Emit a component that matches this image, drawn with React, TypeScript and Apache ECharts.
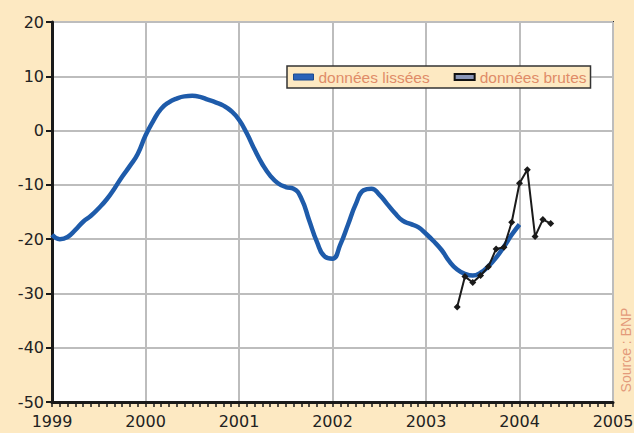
import React, { useEffect, useRef } from "react";
import * as echarts from "echarts";

const startYear = 1999;
const smoothedName = "données lissées";
const rawName = "données brutes";
// monthly values, Jan 1999 .. Jan 2004
const smoothedValues = [
  -19.2, -20.0, -19.6, -18.3, -16.8, -15.7, -14.3, -12.7, -10.7, -8.5, -6.5, -4.3,
  -0.9, 1.8, 4.0, 5.2, 5.9, 6.3, 6.4, 6.2, 5.7, 5.2, 4.6, 3.6,
  2.0, -0.5, -3.5, -6.2, -8.3, -9.7, -10.4, -10.7, -12.5, -16.5, -20.5, -23.2,
  -23.6, -21.0, -17.3, -13.5, -11.0, -10.7, -11.8, -13.5, -15.2, -16.6, -17.2, -17.8,
  -19.0, -20.4, -22.0, -24.1, -25.6, -26.4, -26.7, -26.2, -25.0, -23.4, -21.4, -19.2,
  -17.3,
];
// monthly values, May 2003 .. May 2004
const rawStartMonth = 52;
const rawValues = [-32.5, -26.9, -28.0, -26.7, -25.1, -21.8, -21.5, -16.9, -9.7, -7.2, -19.5, -16.4, -17.1];
const yearTicks = [1999, 2000, 2001, 2002, 2003, 2004, 2005];
const yMin = -50;
const yMax = 20;
const sourceText = "Source : BNP";

export default function App() {
  const ref = useRef<HTMLDivElement>(null);
  useEffect(() => {
    if (!ref.current) return;
    const chart = echarts.init(ref.current, undefined, { renderer: "svg" });
    const smoothed = smoothedValues.map((v, i) => [startYear + i / 12, v]);
    const raw = rawValues.map((v, i) => [startYear + (rawStartMonth + i) / 12, v]);
    const labelFont = "DejaVu Sans";
    chart.setOption({
      animation: false,
      backgroundColor: "#FDE9C2",
      grid: {
        left: 52,
        top: 22,
        right: 21,
        bottom: 31,
        show: true,
        backgroundColor: "#ffffff",
        borderColor: "#2a2a2a",
        borderWidth: 2,
        outerBoundsMode: "none",
      },
      legend: {
        left: 287,
        top: 66,
        itemWidth: 20,
        itemHeight: 6,
        itemGap: 24,
        padding: [3, 4, 3, 6],
        backgroundColor: "#FDE9C2",
        borderColor: "#333",
        borderWidth: 1.5,
        borderRadius: 0,
        textStyle: { fontFamily: "Liberation Sans", fontSize: 15.5, color: "#E08C68" },
        data: [
          { name: smoothedName, icon: "rect", itemStyle: { color: "#2A62B8", borderColor: "#1A4A90", borderWidth: 1 } },
          { name: rawName, icon: "rect", itemStyle: { color: "#8A96B8", borderColor: "#111", borderWidth: 2 } },
        ],
      },
      xAxis: {
        type: "value",
        min: yearTicks[0],
        max: yearTicks[yearTicks.length - 1],
        interval: 1,
        axisLine: { show: true, onZero: false, lineStyle: { color: "#1a1a1a", width: 3 } },
        axisTick: { show: true, length: 5, lineStyle: { color: "#1a1a1a", width: 1.5 } },
        minorTick: { show: true, splitNumber: 12, length: 5, lineStyle: { color: "#1a1a1a", width: 1.5 } },
        splitLine: { show: true, lineStyle: { color: "#BDBDBD", width: 2 } },
        axisLabel: {
          margin: 11,
          fontFamily: labelFont,
          fontSize: 16,
          color: "#222",
          formatter: (v: number) => String(Math.round(v)),
        },
      },
      yAxis: {
        type: "value",
        min: yMin,
        max: yMax,
        interval: 10,
        axisLine: { show: true, onZero: false, lineStyle: { color: "#1a1a1a", width: 3 } },
        axisTick: { show: true, length: 6, lineStyle: { color: "#1a1a1a", width: 2 } },
        splitLine: { show: true, lineStyle: { color: "#BDBDBD", width: 2 } },
        axisLabel: { margin: 8, fontFamily: labelFont, fontSize: 16, color: "#222" },
      },
      series: [
        {
          name: smoothedName,
          type: "line",
          data: smoothed,
          smooth: true,
          showSymbol: false,
          lineStyle: { color: "#1E5BAA", width: 4.5 },
          itemStyle: { color: "#1E5BAA" },
          z: 3,
        },
        {
          name: rawName,
          type: "line",
          data: raw,
          symbol: "diamond",
          symbolSize: 7,
          lineStyle: { color: "#1a1a1a", width: 2 },
          itemStyle: { color: "#1a1a1a" },
          z: 4,
        },
      ],
      graphic: [
        {
          type: "text",
          x: 619,
          y: 350,
          rotation: Math.PI / 2,
          style: {
            text: sourceText,
            fontFamily: "Liberation Sans",
            fontSize: 14,
            fill: "#E39A7A",
            align: "center",
            verticalAlign: "top",
          },
        },
      ],
    });
    return () => chart.dispose();
  }, []);
  return <div ref={ref} style={{ width: 634, height: 433, position: "absolute", left: 0, top: 0 }} />;
}
